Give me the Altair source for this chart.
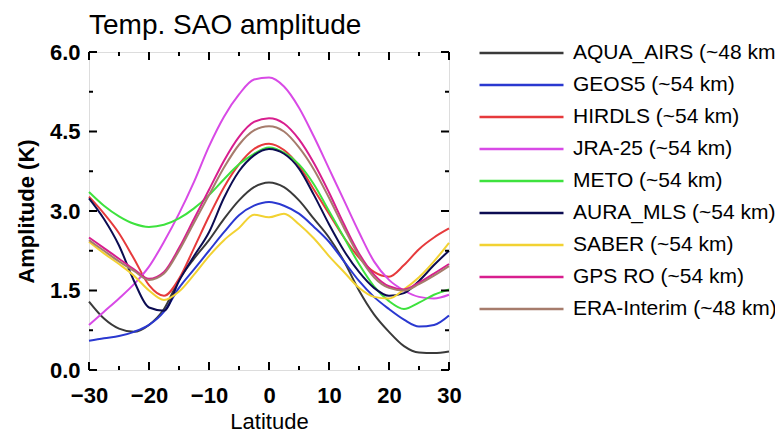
import altair as alt
import pandas as pd

lats = [-30, -27.5, -25, -22.5, -20, -17.5, -15, -12.5, -10, -7.5, -5, -2.5, 0,
        2.5, 5, 7.5, 10, 12.5, 15, 17.5, 20, 22.5, 25, 27.5, 30]

names = ["AQUA_AIRS (~48 km)", "GEOS5 (~54 km)", "HIRDLS (~54 km)", "JRA-25 (~54 km)",
         "METO (~54 km)", "AURA_MLS (~54 km)", "SABER (~54 km)", "GPS RO (~54 km)",
         "ERA-Interim (~48 km)"]
colors = ["#3a3a3a", "#2a38d0", "#e63a3c", "#d84ae6", "#3ee23e", "#0c0c52",
          "#f2d232", "#d81e8e", "#a67c6c"]

aqua_airs = [1.29, 0.97, 0.78, 0.72, 0.85, 1.15, 1.7, 2.1, 2.45, 2.85, 3.2, 3.45, 3.54,
             3.45, 3.2, 2.85, 2.5, 2.05, 1.5, 1.05, 0.72, 0.45, 0.33, 0.32, 0.35]
geos5 = [0.55, 0.6, 0.64, 0.72, 0.85, 1.1, 1.55, 1.9, 2.25, 2.6, 2.92, 3.1, 3.17,
         3.1, 2.95, 2.7, 2.42, 2.05, 1.68, 1.38, 1.15, 0.95, 0.82, 0.85, 1.03]
hirdls = [3.27, 2.95, 2.58, 2.1, 1.6, 1.4, 1.72, 2.3, 2.9, 3.45, 3.88, 4.17, 4.27,
          4.15, 3.85, 3.4, 2.95, 2.5, 2.12, 1.85, 1.76, 1.98, 2.28, 2.5, 2.67]
jra25 = [0.85, 1.1, 1.35, 1.62, 1.95, 2.42, 2.95, 3.55, 4.22, 4.78, 5.2, 5.48, 5.52,
         5.35, 4.95, 4.4, 3.8, 3.2, 2.6, 2.05, 1.7, 1.5, 1.38, 1.35, 1.42]
meto = [3.36, 3.1, 2.9, 2.76, 2.7, 2.74, 2.86, 3.05, 3.3, 3.6, 3.88, 4.08, 4.2,
        4.1, 3.88, 3.5, 3.0, 2.5, 2.0, 1.58, 1.3, 1.15, 1.27, 1.42, 1.52]
aura_mls = [3.24, 2.85, 2.35, 1.68, 1.18, 1.12, 1.68, 2.15, 2.6, 3.25, 3.75, 4.05, 4.17,
            4.08, 3.8, 3.3, 2.75, 2.25, 1.85, 1.55, 1.4, 1.45, 1.68, 1.98, 2.25]
saber = [2.42, 2.2, 2.0, 1.78, 1.5, 1.32, 1.48, 1.8, 2.15, 2.45, 2.68, 2.93, 2.88,
         2.95, 2.75, 2.48, 2.15, 1.85, 1.55, 1.38, 1.35, 1.52, 1.75, 2.05, 2.4]
gps_ro = [2.5, 2.3, 2.1, 1.9, 1.72, 1.85, 2.3, 2.85, 3.4, 3.95, 4.4, 4.68, 4.75,
          4.65, 4.35, 3.9, 3.35, 2.75, 2.2, 1.8, 1.58, 1.52, 1.65, 1.82, 2.0]
era_interim = [2.45, 2.25, 2.05, 1.87, 1.7, 1.82, 2.25, 2.78, 3.3, 3.82, 4.25, 4.52, 4.6,
               4.5, 4.2, 3.78, 3.25, 2.68, 2.15, 1.75, 1.55, 1.5, 1.62, 1.78, 1.96]

series = [aqua_airs, geos5, hirdls, jra25, meto, aura_mls, saber, gps_ro, era_interim]

x_major = [-30, -20, -10, 0, 10, 20, 30]
x_minor = [-25, -15, -5, 5, 15, 25]
y_major = [0.0, 1.5, 3.0, 4.5, 6.0]
y_minor = [0.75, 2.25, 3.75, 5.25]

rows = []
for name, vals in zip(names, series):
    for la, v in zip(lats, vals):
        rows.append({"series": name, "lat": la, "val": v})
df = pd.DataFrame(rows)

W, H = 360, 318
FONT = "Liberation Sans"
xscale = alt.Scale(domain=[-30, 30], nice=False, zero=False)
yscale = alt.Scale(domain=[0, 6], nice=False)

x_axis = alt.Axis(orient="bottom", values=x_major, ticks=False, domain=False,
                  grid=False, labelFontSize=22, labelFontWeight="bold",
                  labelColor="black", labelFont=FONT, labelPadding=15,
                  labelFlush=False,
                  title="Latitude", titleFont=FONT, titleFontSize=22,
                  titleFontWeight="normal", titleColor="black",
                  titleX=180, titleY=58, titleBaseline="alphabetic")
y_axis = alt.Axis(orient="left", values=y_major, format=".1f", ticks=False,
                  domain=False, grid=False, labelFontSize=22,
                  labelFontWeight="bold", labelColor="black", labelFont=FONT,
                  labelPadding=9, labelFlush=False,
                  title="Amplitude (K)", titleFont=FONT, titleFontSize=22,
                  titleFontWeight="bold", titleColor="black",
                  titleX=-56, titleY=159, titleAngle=-90,
                  titleAlign="center", titleBaseline="alphabetic")

lines = alt.Chart(df).mark_line(strokeWidth=2, interpolate="monotone").encode(
    x=alt.X("lat:Q", scale=xscale, axis=x_axis, title="Latitude"),
    y=alt.Y("val:Q", scale=yscale, axis=y_axis, title="Amplitude (K)"),
    color=alt.Color("series:N", sort=names,
                    scale=alt.Scale(domain=names, range=colors),
                    legend=alt.Legend(orient="none", legendX=389, legendY=-15,
                                      title=None, symbolType="stroke",
                                      symbolSize=7056, symbolStrokeWidth=2.5,
                                      labelFontSize=21, labelFont=FONT,
                                      labelColor="black", labelOffset=8,
                                      clipHeight=32, rowPadding=0,
                                      labelLimit=400)),
)

xt_major = pd.DataFrame({"lat": x_major})
xt_minor = pd.DataFrame({"lat": x_minor})
yt_major = pd.DataFrame({"val": y_major})
yt_minor = pd.DataFrame({"val": y_minor})


def xticks(data, y0, y1):
    return alt.Chart(data).mark_rule(color="black", strokeWidth=2).encode(
        x=alt.X("lat:Q", scale=xscale, title="Latitude"),
        y=alt.value(y0), y2=alt.value(y1))


def yticks(data, x0, x1):
    return alt.Chart(data).mark_rule(color="black", strokeWidth=2).encode(
        y=alt.Y("val:Q", scale=yscale, title="Amplitude (K)"),
        x=alt.value(x0), x2=alt.value(x1))


chart = alt.layer(
    lines,
    xticks(xt_major, H, H - 8), xticks(xt_minor, H, H - 4),
    xticks(xt_major, 0, 8), xticks(xt_minor, 0, 4),
    yticks(yt_major, 0, 8), yticks(yt_minor, 0, 4),
    yticks(yt_major, W, W - 8), yticks(yt_minor, W, W - 4),
).properties(
    width=W, height=H,
    autosize=alt.AutoSizeParams(type="none"),
    padding={"left": 81, "top": 44, "right": 326, "bottom": 70},
    title=alt.TitleParams("Temp. SAO amplitude", anchor="start", font=FONT,
                          fontSize=28, fontWeight="normal", color="black",
                          offset=10, dy=13, frame="group"),
).configure_view(stroke="black", strokeWidth=2.5).configure(background="white")

chart.save("out.html", embed_options={"renderer": "svg", "actions": False})
